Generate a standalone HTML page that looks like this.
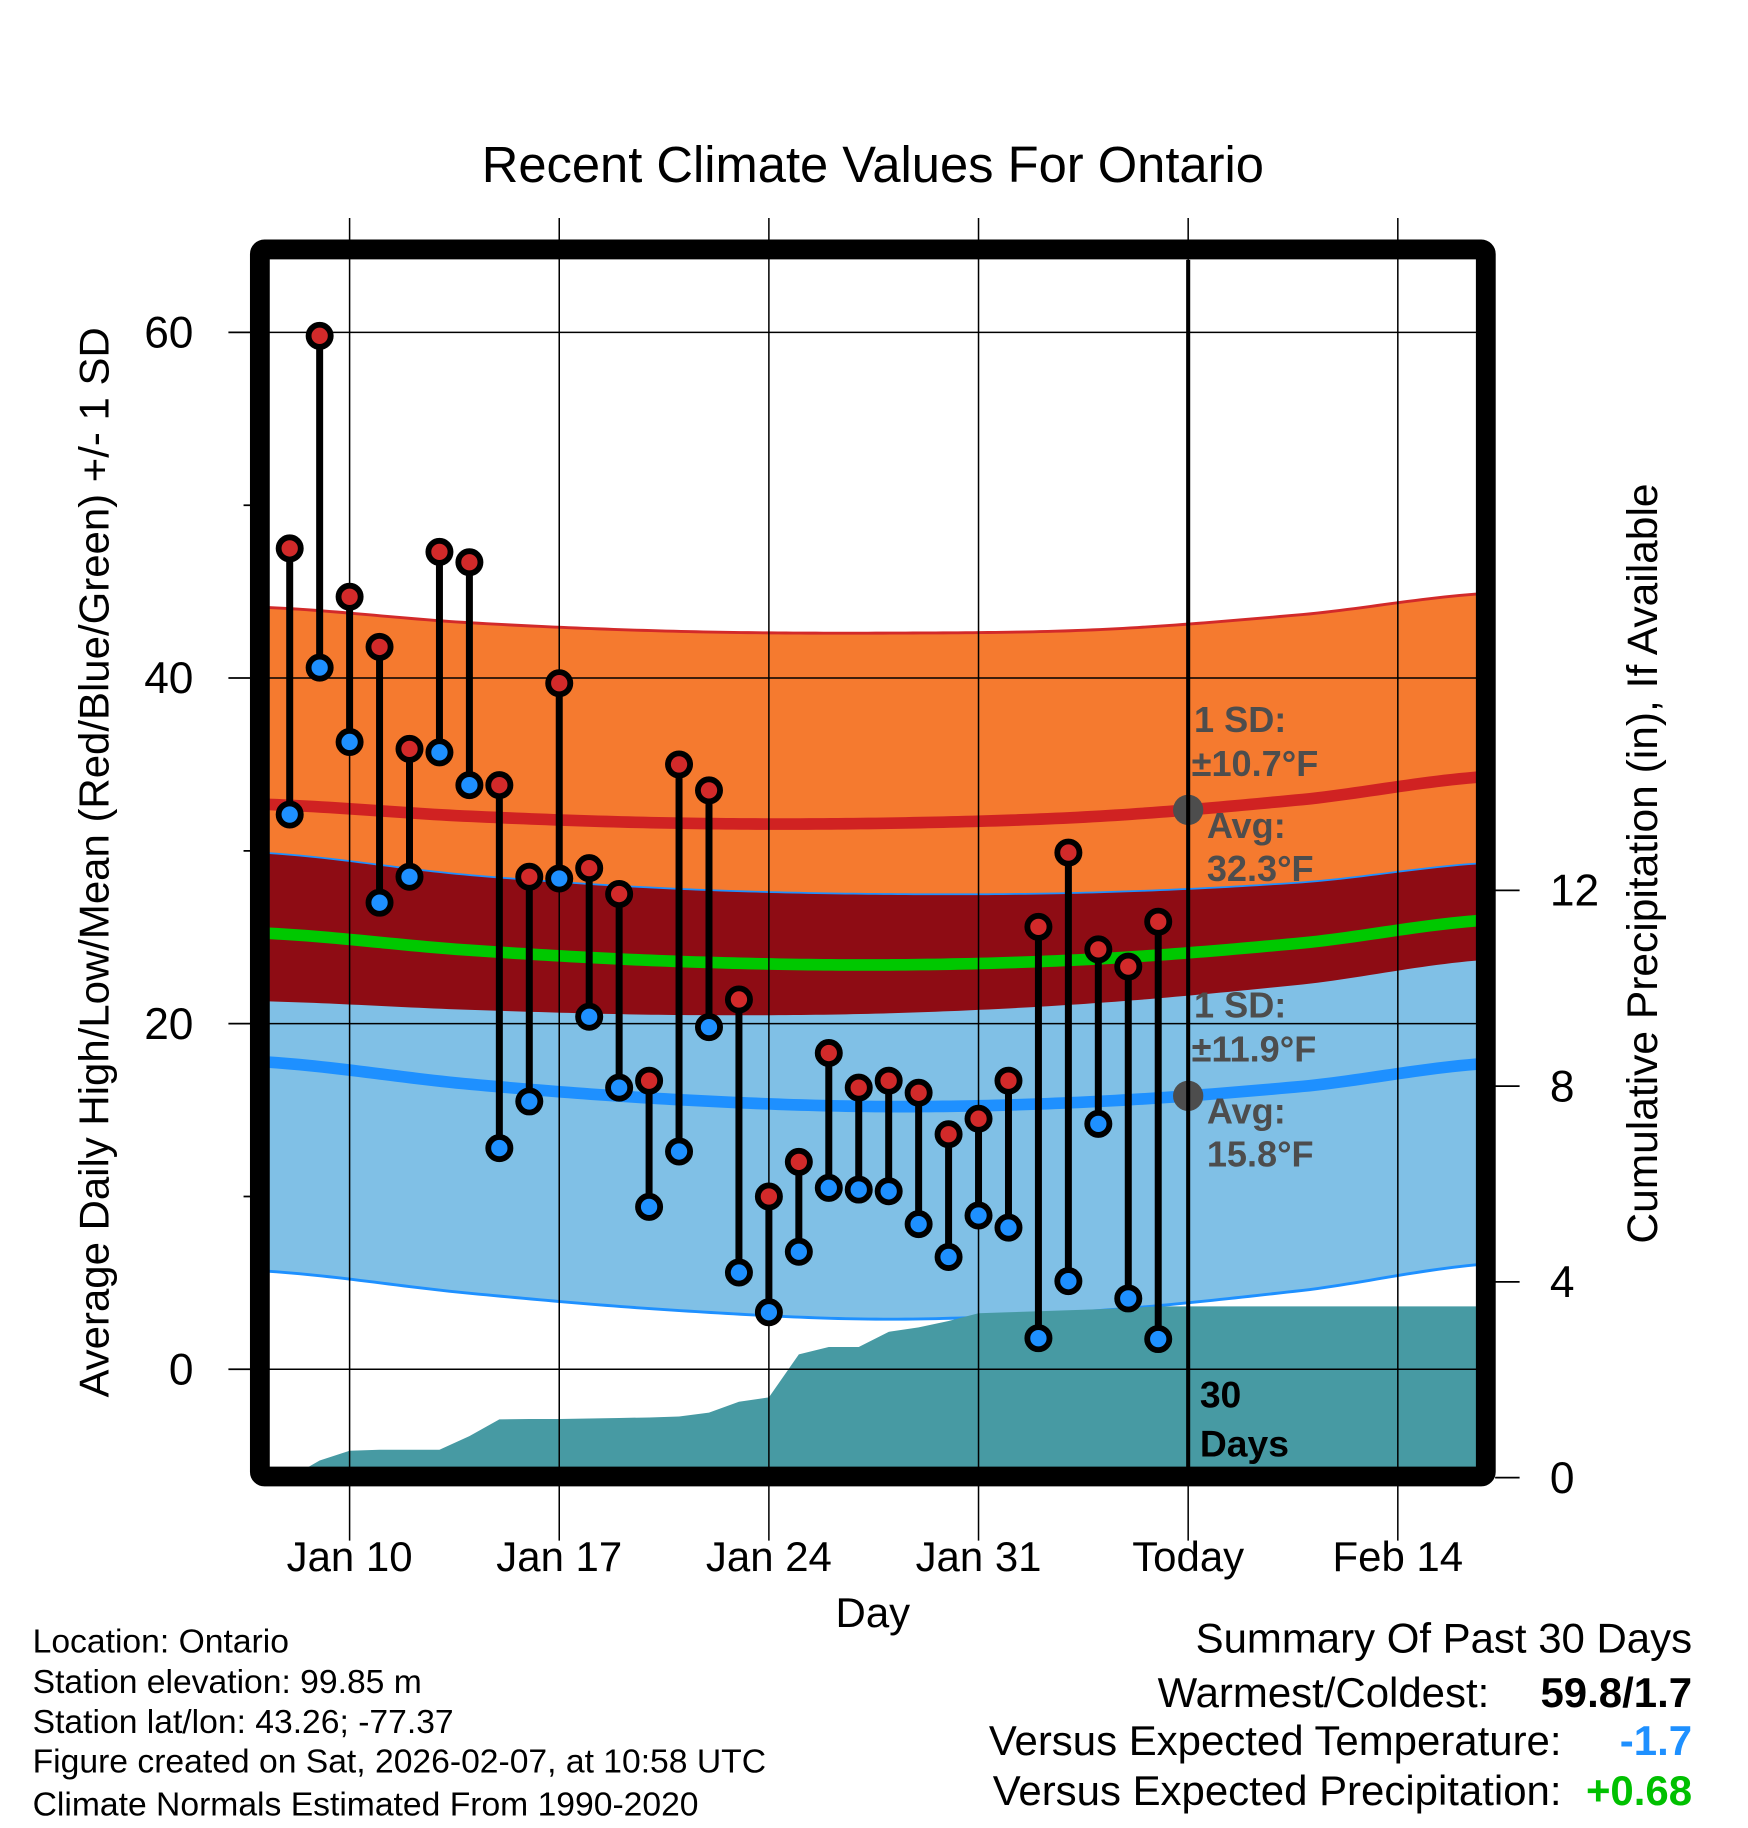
<!DOCTYPE html>
<html><head><meta charset="utf-8"><style>
html,body{margin:0;padding:0;background:#fff}
svg{display:block;font-family:"Liberation Sans",Arial,sans-serif}
</style></head><body>
<svg id="chart" width="1748" height="1828" viewBox="0 0 1500 1568.6" xmlns="http://www.w3.org/2000/svg">
<rect x="0" y="0" width="1500" height="1569" fill="#fff"/>
<text x="749" y="156" font-size="43.5" text-anchor="middle">Recent Climate Values For Ontario</text>
<g id="plot"></g>
<text transform="translate(93,740) rotate(-90)" font-size="36" text-anchor="middle">Average Daily High/Low/Mean (Red/Blue/Green) +/- 1 SD</text>
<text transform="translate(1422,741) rotate(-90)" font-size="36.5" text-anchor="middle">Cumulative Precipitation (in), If Available</text>
<text x="749" y="1396" font-size="36" text-anchor="middle">Day</text>
<g font-size="28.9">
<text x="28" y="1418">Location: Ontario</text>
<text x="28" y="1453">Station elevation: 99.85 m</text>
<text x="28" y="1487">Station lat/lon: 43.26; -77.37</text>
<text x="28" y="1521">Figure created on Sat, 2026-02-07, at 10:58 UTC</text>
<text x="28" y="1558">Climate Normals Estimated From 1990-2020</text>
</g>
<g font-size="36" text-anchor="end">
<text x="1452" y="1418">Summary Of Past 30 Days</text>
<text x="1278" y="1465">Warmest/Coldest:</text>
<text x="1452" y="1465" font-weight="bold">59.8/1.7</text>
<text x="1340" y="1506">Versus Expected Temperature:</text>
<text x="1452" y="1506" font-weight="bold" fill="#1e90ff">-1.7</text>
<text x="1340" y="1549">Versus Expected Precipitation:</text>
<text x="1452" y="1549" font-weight="bold" fill="#00c000">+0.68</text>
</g>
</svg>
<script>
// Data (days since Jan 10; Jan 8 = -2)
const obsDays=[-2,-1,0,1,2,3,4,5,6,7,8,9,10,11,12,13,14,15,16,17,18,19,20,21,22,23,24,25,26,27];
const highs=[47.5,59.8,44.7,41.8,35.9,47.3,46.7,33.8,28.5,39.7,29.0,27.5,16.7,35.0,33.5,21.4,10.0,12.0,18.3,16.3,16.7,16.0,13.6,14.5,16.7,25.6,29.9,24.3,23.3,25.9];
const lows=[32.1,40.6,36.3,27.0,28.5,35.7,33.8,12.8,15.5,28.4,20.4,16.3,9.4,12.6,19.8,5.6,3.3,6.8,10.5,10.4,10.3,8.4,6.5,8.9,8.2,1.8,5.1,14.2,4.1,1.75];
const precipCum=[0,0.35,0.55,0.57,0.57,0.57,0.85,1.19,1.2,1.2,1.21,1.22,1.23,1.25,1.33,1.55,1.64,2.52,2.67,2.67,2.98,3.07,3.2,3.36,3.38,3.4,3.42,3.44,3.47,3.5];
const normDays=[-3,4,11,18,25,32,38];
const normHigh=[32.7,32.0,31.6,31.6,32.0,33.0,34.3];
const sdHigh=[11.4,11.2,11.1,11.0,10.8,10.7,10.6];
const normLow=[17.8,16.5,15.6,15.2,15.5,16.4,17.7];
const sdLow=[12.1,12.1,12.2,12.3,12.1,11.8,11.6];
const xTickDays=[0,7,14,21,28,35];
const xTickLabels=['Jan 10','Jan 17','Jan 24','Jan 31','Today','Feb 14'];
const yTicks=[0,20,40,60];
const yMinor=[10,30,50];
const y2Ticks=[0,4,8,12];
const todayDay=28;

const NS='http://www.w3.org/2000/svg';
const X=d=>300+25.7*d;
const Y=t=>1175-14.83*t;
const Y2=p=>1268-42*p;
const L=231,R=1267,T=223,B=1260;
const plot=document.getElementById('plot');
function mk(tag,a,parent){const e=document.createElementNS(NS,tag);for(const k in a)e.setAttribute(k,a[k]);(parent||plot).appendChild(e);return e;}
// smooth (Catmull-Rom style cubic) interpolation of normals
function interp(arr,d){
 const n=normDays.length;let i=0;
 while(i<n-2&&d>normDays[i+1])i++;
 const f=Math.max(0,Math.min(1,(d-normDays[i])/(normDays[i+1]-normDays[i])));
 const p0=arr[Math.max(0,i-1)],p1=arr[i],p2=arr[i+1],p3=arr[Math.min(n-1,i+2)];
 const f2=f*f,f3=f2*f;
 return 0.5*((2*p1)+(-p0+p2)*f+(2*p0-5*p1+4*p2-p3)*f2+(-p0+3*p1-3*p2+p3)*f3);
}
const d0=(L-300)/25.7,d1=(R-300)/25.7;
const ds=[];for(let d=d0;d<=d1+1e-6;d+=0.25)ds.push(d);ds.push(d1);
const fH=d=>interp(normHigh,d),fL=d=>interp(normLow,d),fSH=d=>interp(sdHigh,d),fSL=d=>interp(sdLow,d);
function band(up,lo){let p=ds.map(d=>X(d)+','+Y(up(d))).join(' ');p+=' '+ds.slice().reverse().map(d=>X(d)+','+Y(lo(d))).join(' ');return p;}
function line(f){return ds.map(d=>X(d)+','+Y(f(d))).join(' ');}
const clip=mk('clipPath',{id:'pc'});mk('rect',{x:L,y:T,width:R-L,height:B-T},clip);
const g=mk('g',{'clip-path':'url(#pc)'});


let e;
e=mk('polygon',{points:band(d=>fH(d)+fSH(d),d=>fH(d)-fSH(d)),fill:'#f57a2f'},g);

e=mk('polygon',{points:band(d=>fL(d)+fSL(d),d=>fL(d)-fSL(d)),fill:'#80c0e6'},g);

e=mk('polygon',{points:band(d=>Math.min(fL(d)+fSL(d),fH(d)+fSH(d)),d=>Math.max(fH(d)-fSH(d),fL(d)-fSL(d))),fill:'#8e0c14'},g);

mk('polyline',{points:line(d=>fH(d)+fSH(d)),fill:'none',stroke:'#d22a2a','stroke-width':2.5},g);
mk('polyline',{points:line(d=>fL(d)+fSL(d)),fill:'none',stroke:'#1e90ff','stroke-width':1.5},g);
mk('polyline',{points:line(d=>fL(d)-fSL(d)),fill:'none',stroke:'#1e90ff','stroke-width':2.5},g);
e=mk('polyline',{points:line(fH),fill:'none',stroke:'#d02222','stroke-width':10},g);

e=mk('polyline',{points:line(fL),fill:'none',stroke:'#1e90ff','stroke-width':10},g);

e=mk('polyline',{points:line(d=>(fH(d)+fL(d))/2),fill:'none',stroke:'#00c800','stroke-width':10},g);

// precip
let pp=X(obsDays[0])+','+Y2(0)+' '+obsDays.map((d,i)=>X(d)+','+Y2(precipCum[i])).join(' ');
pp+=' '+R+','+Y2(precipCum[precipCum.length-1])+' '+R+','+B+' '+X(obsDays[0])+','+B;
e=mk('polygon',{points:pp,fill:'#479aa3'},g);

// gridlines
yTicks.forEach(t=>{mk('line',{x1:L,x2:R,y1:Y(t),y2:Y(t),stroke:'#000','stroke-width':1.3},g);});
xTickDays.forEach(d=>{mk('line',{x1:X(d),x2:X(d),y1:187,y2:1322,stroke:'#000','stroke-width':1.3});});
// annotations
const ann=mk('g',{fill:'#4d4d4d','font-weight':'bold','font-size':31});

const tx=X(todayDay);
mk('circle',{cx:tx,cy:Y(fH(todayDay)),r:13,fill:'#4d4d4d'},ann);
mk('circle',{cx:tx,cy:Y(fL(todayDay)),r:13,fill:'#4d4d4d'},ann);
function annT(parts,x,y){const t=mk('text',{x:x,y:y},ann);t.textContent=parts;}
annT('1 SD:',tx+5,628);
annT('\u00b110.7\u00b0F',tx+3,666);
annT('Avg:',tx+16,719);
annT('32.3\u00b0F',tx+16,756);
annT('1 SD:',tx+5,873);
annT('\u00b111.9\u00b0F',tx+3,911);
annT('Avg:',tx+16,964);
annT('15.8\u00b0F',tx+16,1001);
// today line
e=mk('line',{x1:tx,x2:tx,y1:T,y2:B,stroke:'#000','stroke-width':3.5});

const dt=mk('g',{'font-weight':'bold','font-size':32});
mk('text',{x:tx+10,y:1208},dt).textContent='30';
mk('text',{x:tx+10,y:1250},dt).textContent='Days';
// stems and markers
obsDays.forEach((d,i)=>{
 const s=mk('line',{x1:X(d),x2:X(d),y1:Y(highs[i]),y2:Y(lows[i]),stroke:'#000','stroke-width':6});
 
});
obsDays.forEach((d,i)=>{
 const h=mk('circle',{cx:X(d),cy:Y(highs[i]),r:9.5,fill:'#d22a2a',stroke:'#000','stroke-width':5});
 
 const l=mk('circle',{cx:X(d),cy:Y(lows[i]),r:9.5,fill:'#1e90ff',stroke:'#000','stroke-width':5});
 
});
// frame
e=mk('rect',{x:223,y:214,width:1052,height:1053,fill:'none',stroke:'#000','stroke-width':17,rx:4});

// y ticks
yTicks.forEach(t=>{
 mk('line',{x1:196,x2:L,y1:Y(t),y2:Y(t),stroke:'#000','stroke-width':1.5});
 const lb=mk('text',{x:166,y:Y(t)+13,'font-size':38,'text-anchor':'end'});
 lb.textContent=t;
 
});
yMinor.forEach(t=>{mk('line',{x1:209,x2:L,y1:Y(t),y2:Y(t),stroke:'#000','stroke-width':1.5});});
y2Ticks.forEach(p=>{
 mk('line',{x1:1283,x2:1304,y1:Y2(p),y2:Y2(p),stroke:'#000','stroke-width':1.5});
 const lb=mk('text',{x:1330,y:Y2(p)+13,'font-size':38});
 lb.textContent=p;
 
});
xTickDays.forEach((d,i)=>{
 const lb=mk('text',{x:X(d),y:1348,'font-size':36,'text-anchor':'middle'});
 lb.textContent=xTickLabels[i];
 
});
</script>
</body></html>
